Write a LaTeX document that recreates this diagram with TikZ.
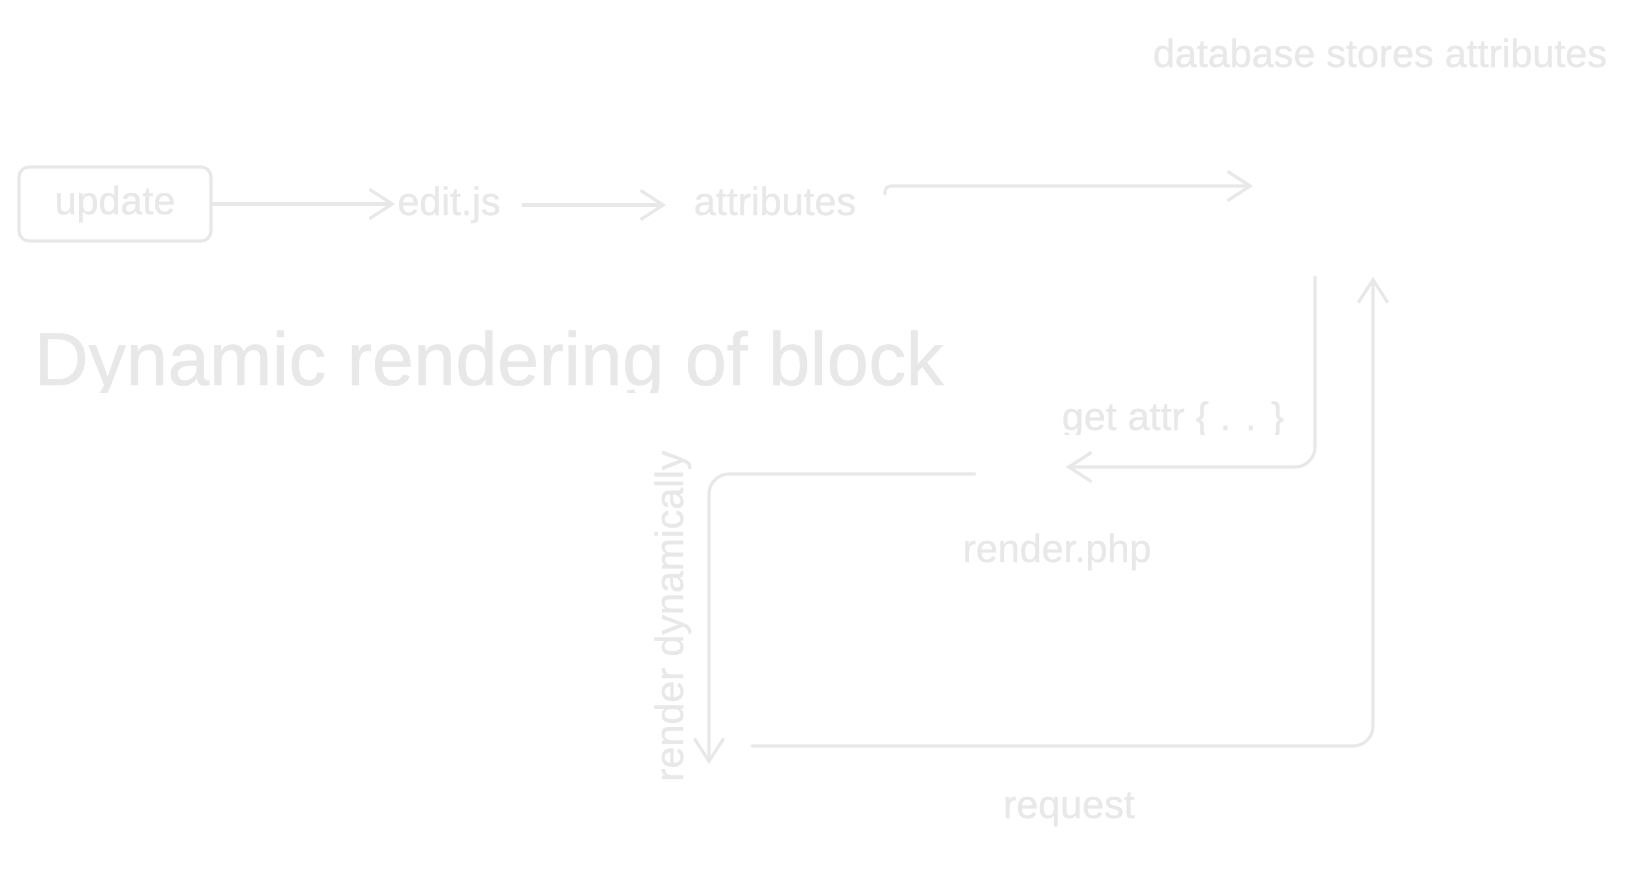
\documentclass[tikz,border=0pt]{standalone}
\usepackage{fontspec}
\setmainfont{Liberation Sans}[FakeBold=0.6]
\usetikzlibrary{arrows.meta}
\definecolor{ink}{HTML}{E8E8E8}
\begin{document}
\begin{tikzpicture}[x=0.75pt,y=-0.75pt,
  conn/.style={draw=ink,line width=2.3pt,line cap=round,line join=round,-{Straight Barb[length=17pt,width=22pt]}},
  lbl/.style={text=ink,font=\fontsize{29.6pt}{32pt}\selectfont,inner sep=0pt,anchor=base},
  boxnode/.style={draw=ink,line width=2.3pt,rounded corners=7.5pt,text=ink,font=\fontsize{29.6pt}{32pt}\selectfont,minimum width=144pt,minimum height=55.5pt,inner sep=0pt},
  titlenode/.style={text=ink,font=\fontsize{56.3pt}{60pt}\selectfont,inner sep=0pt,anchor=base west}]
\useasboundingbox[fill=white] (0,0) rectangle (1630,883);

\node[boxnode] (update) at (115,204) {update};
\node[lbl] (editjs) at (449,215) {edit.js};
\node[lbl] (attr) at (775,215) {attributes};
\node[lbl] (db) at (1380,67) {database stores attributes};
\begin{scope}
  \clip (900,380) rectangle (1300,434);
  \node[lbl] (getattr) at (1173,430) {get attr \{ . . \}};
\end{scope}
\node[lbl] (render) at (1057,562) {render.php};
\node[lbl] (request) at (1069,818) {request};
\node[lbl,rotate=90] (rdyn) at (683,616) {render dynamically};
\begin{scope}
  \clip (0,300) rectangle (1000,392);
  \node[titlenode] (title) at (34,385) {Dynamic rendering of block};
\end{scope}

\coordinate (e1) at (395,204);
\coordinate (s2) at (523,205);
\coordinate (e2) at (666,205);
\coordinate (s3) at (885,194);
\coordinate (k3) at (885,186);
\coordinate (e3) at (1253,186);
\coordinate (g0) at (1315,277);
\coordinate (g1) at (1066,467);
\coordinate (r0) at (975,474);
\coordinate (r1) at (709,764);
\coordinate (q0) at (752,746);
\coordinate (q1) at (1373,277);

\draw[conn] (update.east) -- (e1);
\draw[conn] (s2) -- (e2);
\draw[conn,rounded corners=4pt] (s3) -- (k3) -- (e3);
\draw[conn,rounded corners=15pt] (g0) |- (g1);
\draw[conn,rounded corners=15pt] (r0) -| (r1);
\draw[conn,rounded corners=15pt] (q0) -| (q1);
\end{tikzpicture}
\end{document}
